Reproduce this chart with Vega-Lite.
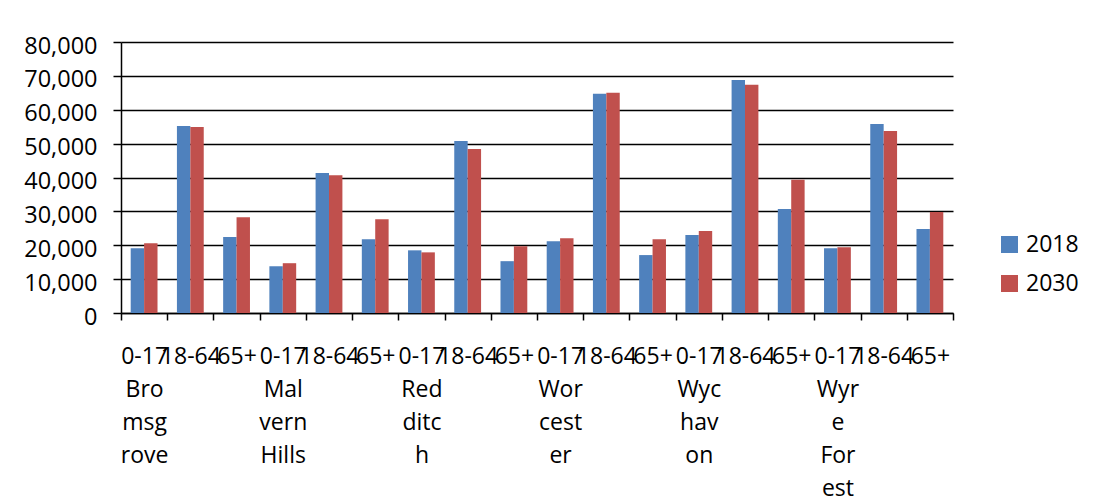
{
  "$schema": "https://vega.github.io/schema/vega-lite/v6.json",
  "autosize": "none",
  "width": 832,
  "height": 271,
  "padding": {"left": 121, "top": 42, "right": 145, "bottom": 186},
  "background": "white",
  "config": {
    "view": {"stroke": null},
    "font": "Open Sans"
  },
  "data": {
    "values": [
      {"district": "Bromsgrove", "age": "0-17", "label": "0-17|Bro|msg|rove", "year": "2018", "value": 19100},
      {"district": "Bromsgrove", "age": "0-17", "label": "0-17|Bro|msg|rove", "year": "2030", "value": 20600},
      {"district": "Bromsgrove", "age": "18-64", "label": "18-64|Bromsgrove", "year": "2018", "value": 55200},
      {"district": "Bromsgrove", "age": "18-64", "label": "18-64|Bromsgrove", "year": "2030", "value": 54900},
      {"district": "Bromsgrove", "age": "65+", "label": "65+|Bromsgrove", "year": "2018", "value": 22400},
      {"district": "Bromsgrove", "age": "65+", "label": "65+|Bromsgrove", "year": "2030", "value": 28300},
      {"district": "Malvern Hills", "age": "0-17", "label": "0-17|Mal|vern|Hills", "year": "2018", "value": 13800},
      {"district": "Malvern Hills", "age": "0-17", "label": "0-17|Mal|vern|Hills", "year": "2030", "value": 14700},
      {"district": "Malvern Hills", "age": "18-64", "label": "18-64|Malvern Hills", "year": "2018", "value": 41300},
      {"district": "Malvern Hills", "age": "18-64", "label": "18-64|Malvern Hills", "year": "2030", "value": 40700},
      {"district": "Malvern Hills", "age": "65+", "label": "65+|Malvern Hills", "year": "2018", "value": 21800},
      {"district": "Malvern Hills", "age": "65+", "label": "65+|Malvern Hills", "year": "2030", "value": 27700},
      {"district": "Redditch", "age": "0-17", "label": "0-17|Red|ditc|h", "year": "2018", "value": 18500},
      {"district": "Redditch", "age": "0-17", "label": "0-17|Red|ditc|h", "year": "2030", "value": 17900},
      {"district": "Redditch", "age": "18-64", "label": "18-64|Redditch", "year": "2018", "value": 50800},
      {"district": "Redditch", "age": "18-64", "label": "18-64|Redditch", "year": "2030", "value": 48400},
      {"district": "Redditch", "age": "65+", "label": "65+|Redditch", "year": "2018", "value": 15300},
      {"district": "Redditch", "age": "65+", "label": "65+|Redditch", "year": "2030", "value": 19700},
      {"district": "Worcester", "age": "0-17", "label": "0-17|Wor|cest|er", "year": "2018", "value": 21200},
      {"district": "Worcester", "age": "0-17", "label": "0-17|Wor|cest|er", "year": "2030", "value": 22100},
      {"district": "Worcester", "age": "18-64", "label": "18-64|Worcester", "year": "2018", "value": 64700},
      {"district": "Worcester", "age": "18-64", "label": "18-64|Worcester", "year": "2030", "value": 65000},
      {"district": "Worcester", "age": "65+", "label": "65+|Worcester", "year": "2018", "value": 17100},
      {"district": "Worcester", "age": "65+", "label": "65+|Worcester", "year": "2030", "value": 21800},
      {"district": "Wychavon", "age": "0-17", "label": "0-17|Wyc|hav|on", "year": "2018", "value": 23000},
      {"district": "Wychavon", "age": "0-17", "label": "0-17|Wyc|hav|on", "year": "2030", "value": 24200},
      {"district": "Wychavon", "age": "18-64", "label": "18-64|Wychavon", "year": "2018", "value": 68800},
      {"district": "Wychavon", "age": "18-64", "label": "18-64|Wychavon", "year": "2030", "value": 67400},
      {"district": "Wychavon", "age": "65+", "label": "65+|Wychavon", "year": "2018", "value": 30700},
      {"district": "Wychavon", "age": "65+", "label": "65+|Wychavon", "year": "2030", "value": 39300},
      {"district": "Wyre Forest", "age": "0-17", "label": "0-17|Wyr|e|For|est", "year": "2018", "value": 19100},
      {"district": "Wyre Forest", "age": "0-17", "label": "0-17|Wyr|e|For|est", "year": "2030", "value": 19400},
      {"district": "Wyre Forest", "age": "18-64", "label": "18-64|Wyre Forest", "year": "2018", "value": 55800},
      {"district": "Wyre Forest", "age": "18-64", "label": "18-64|Wyre Forest", "year": "2030", "value": 53700},
      {"district": "Wyre Forest", "age": "65+", "label": "65+|Wyre Forest", "year": "2018", "value": 24800},
      {"district": "Wyre Forest", "age": "65+", "label": "65+|Wyre Forest", "year": "2030", "value": 29800}
    ]
  },
  "mark": {"type": "bar"},
  "encoding": {
    "x": {
      "field": "label",
      "type": "nominal",
      "sort": null,
      "scale": {"paddingInner": 0, "paddingOuter": 0},
      "axis": {
        "title": null,
        "labelExpr": "!isString(datum.value) ? '' : (split(datum.value, '|')[0] == '0-17' ? split(datum.value, '|') : split(datum.value, '|')[0])",
        "labelAngle": 0,
        "labelOverlap": false,
        "labelBound": false,
        "labelLimit": 0,
        "labelFont": "Open Sans",
        "labelFontSize": 23,
        "labelColor": "#000000",
        "labelLineHeight": 33,
        "labelBaseline": "top",
        "labelPadding": 25,
        "tickSize": 7,
        "tickWidth": 1.5,
        "tickColor": "#000000",
        "tickBand": "extent",
        "domainColor": "#000000",
        "domainWidth": 1.5,
        "grid": false
      }
    },
    "xOffset": {"field": "year", "type": "nominal", "sort": ["2018", "2030"], "scale": {"paddingInner": 0, "paddingOuter": 0.724}},
    "y": {
      "field": "value",
      "type": "quantitative",
      "scale": {"domain": [0, 80000], "nice": false},
      "axis": {
        "title": null,
        "values": [0, 10000, 20000, 30000, 40000, 50000, 60000, 70000, 80000],
        "format": ",.0f",
        "labelFont": "Open Sans",
        "labelFontSize": 23.5,
        "labelColor": "#000000",
        "labelPadding": 16,
        "labelOffset": 4,
        "tickSize": 8,
        "tickWidth": 1.5,
        "tickColor": "#000000",
        "domainColor": "#000000",
        "domainWidth": 1.5,
        "grid": true,
        "gridColor": "#000000",
        "gridWidth": 1.5
      }
    },
    "color": {
      "field": "year",
      "type": "nominal",
      "scale": {"domain": ["2018", "2030"], "range": ["#4F81BD", "#C0504D"]},
      "legend": {
        "title": null,
        "orient": "none",
        "legendX": 877,
        "legendY": 191,
        "symbolType": "square",
        "symbolSize": 289,
        "symbolStrokeWidth": 0,
        "labelFont": "Open Sans",
        "labelFontSize": 23,
        "labelColor": "#000000",
        "labelOffset": 5,
        "rowPadding": 15
      }
    }
  }
}
